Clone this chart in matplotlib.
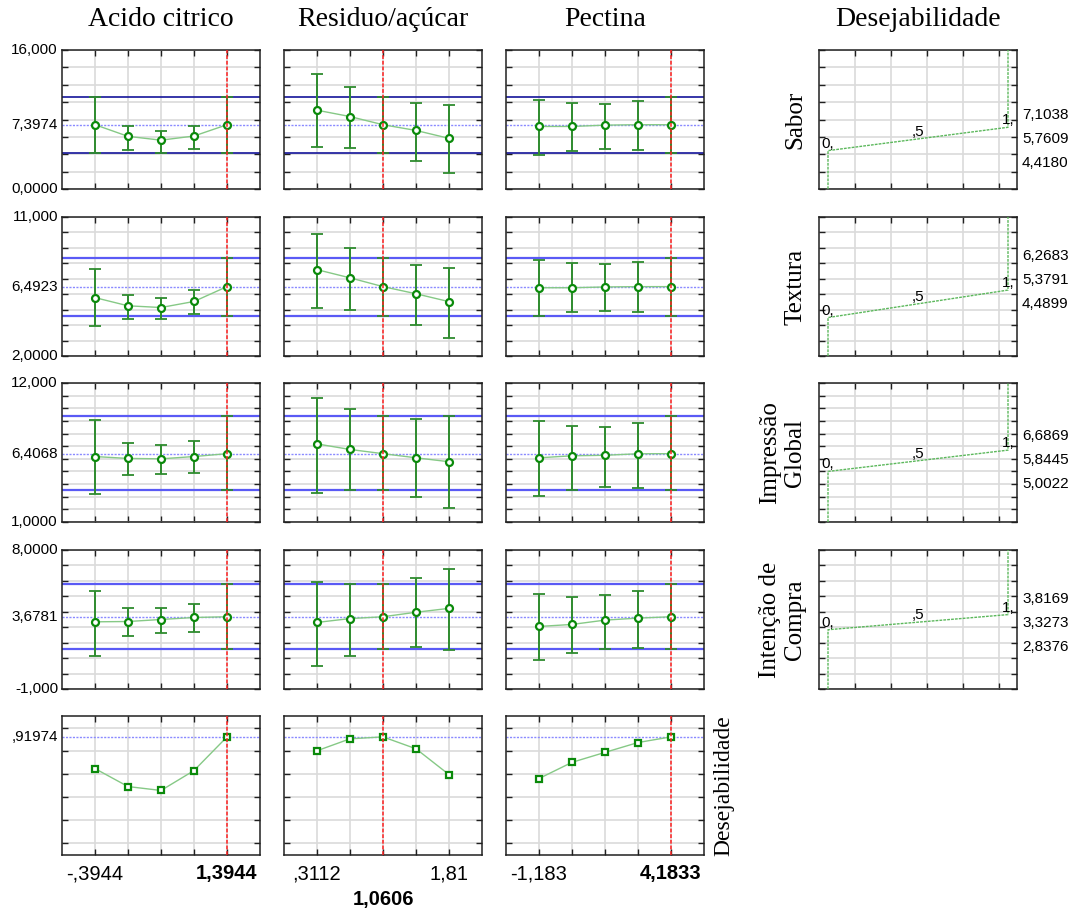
import matplotlib
matplotlib.use('Agg')
import matplotlib.pyplot as plt
import matplotlib.transforms as mtransforms
import numpy as np

# ---------------- data ----------------
factor_names = ["Acido citrico", "Residuo/açúcar", "Pectina"]
factor_levels = [
    [-0.3944, 0.0528, 0.5000, 0.9472, 1.3944],
    [0.3112, 0.6859, 1.0606, 1.4353, 1.8100],
    [-1.1833, 0.1584, 1.5000, 2.8417, 4.1833],
]
current_level = [1.3944, 1.0606, 4.1833]
xlabel_first = ["-,3944", ",3112", "-1,183"]
xlabel_last = ["1,3944", "1,81", "4,1833"]
current_label = ["1,3944", "1,0606", "4,1833"]

response_names = ["Sabor", "Textura", "Impressão\nGlobal", "Intenção de\nCompra"]
y_limits = [(0, 16), (2, 11), (1, 12), (-1, 8)]
y_step = [2, 1, 1, 1]
y_top_labels = ["16,000", "11,000", "12,000", "8,0000"]
y_bottom_labels = ["0,0000", "2,0000", "1,0000", "-1,000"]
predicted = [7.3974, 6.4923, 6.4068, 3.6781]
predicted_labels = ["7,3974", "6,4923", "6,4068", "3,6781"]
ci_low = [4.19, 4.62, 3.50, 1.58]
ci_high = [10.55, 8.33, 9.42, 5.83]

# predicted means per response, per factor (5 levels)
sabor_mean = [[7.40, 6.06, 5.62, 6.10, 7.3974],
              [9.07, 8.34, 7.3974, 6.74, 5.83],
              [7.20, 7.20, 7.35, 7.40, 7.3974]]
sabor_low = [[4.11, 4.53, 4.19, 4.57, 4.19],
             [4.88, 4.76, 4.19, 3.20, 1.79],
             [3.92, 4.42, 4.65, 4.53, 4.19]]
sabor_high = [[10.55, 7.24, 6.67, 7.28, 10.55],
              [13.18, 11.70, 10.55, 9.94, 9.68],
              [10.29, 9.90, 9.83, 10.10, 10.55]]

textura_mean = [[5.78, 5.25, 5.14, 5.53, 6.4923],
                [7.59, 7.06, 6.4923, 6.03, 5.52],
                [6.42, 6.42, 6.47, 6.49, 6.4923]]
textura_low = [[3.93, 4.37, 4.37, 4.71, 4.62],
               [5.14, 4.99, 4.62, 4.00, 3.17],
               [4.56, 4.82, 4.94, 4.86, 4.62]]
textura_high = [[7.62, 5.94, 5.77, 6.30, 8.33],
                [9.89, 9.00, 8.33, 7.91, 7.70],
                [8.23, 8.04, 7.95, 8.06, 8.33]]

impressao_mean = [[6.18, 6.03, 6.00, 6.18, 6.4068],
                  [7.18, 6.74, 6.4068, 6.08, 5.77],
                  [6.08, 6.24, 6.28, 6.40, 6.4068]]
impressao_low = [[3.18, 4.68, 4.82, 4.87, 3.50],
                 [3.26, 3.54, 3.50, 2.97, 2.10],
                 [3.07, 3.54, 3.78, 3.73, 3.50]]
impressao_high = [[9.10, 7.24, 7.10, 7.39, 9.42],
                  [10.85, 9.91, 9.42, 9.15, 9.36],
                  [8.96, 8.62, 8.54, 8.83, 9.42]]

intencao_mean = [[3.35, 3.37, 3.50, 3.63, 3.6781],
                 [3.31, 3.56, 3.6781, 3.97, 4.22],
                 [3.05, 3.18, 3.46, 3.59, 3.6781]]
intencao_low = [[1.13, 2.43, 2.65, 2.69, 1.58],
                [0.47, 1.13, 1.58, 1.69, 1.54],
                [0.86, 1.33, 1.60, 1.67, 1.58]]
intencao_high = [[5.36, 4.23, 4.25, 4.50, 5.83],
                 [5.95, 5.78, 5.83, 6.16, 6.78],
                 [5.12, 4.97, 5.06, 5.36, 5.83]]

# desirability function limits per response
des_low = [4.4180, 4.4899, 5.0022, 2.8376]
des_mid = [5.7609, 5.3791, 5.8445, 3.3273]
des_high = [7.1038, 6.2683, 6.6869, 3.8169]
des_low_labels = ["4,4180", "4,4899", "5,0022", "2,8376"]
des_mid_labels = ["5,7609", "5,3791", "5,8445", "3,3273"]
des_high_labels = ["7,1038", "6,2683", "6,6869", "3,8169"]

# overall desirability profile
desirability = [[0.646, 0.491, 0.457, 0.629, 0.91974],
                [0.800, 0.903, 0.91974, 0.817, 0.594],
                [0.560, 0.700, 0.786, 0.871, 0.91974]]
des_current = 0.91974
des_current_label = ",91974"

means = [sabor_mean, textura_mean, impressao_mean, intencao_mean]
lows = [sabor_low, textura_low, impressao_low, intencao_low]
highs = [sabor_high, textura_high, impressao_high, intencao_high]

# ---------------- layout ----------------
W, H = 1074, 914
fig = plt.figure(figsize=(W / 100, H / 100), dpi=100)
SANS = ['Liberation Sans', 'DejaVu Sans']
SERIF = ['Liberation Serif', 'DejaVu Serif']

col_left = [62, 284, 506]
right_left = 819
pw, ph = 198, 139
row_top = [50, 217, 383, 550, 716]

GRID = '#dadada'
GREEN = '#0a8a0a'
LGREEN = '#86c986'
TICKFS = 11


def px_axes(l, t, w, h):
    return fig.add_axes([l / W, 1 - (t + h) / H, w / W, h / H])


def style(ax):
    for s in ax.spines.values():
        s.set_color('#202020')
        s.set_linewidth(1.1)
    ax.tick_params(direction='in', top=True, right=True, length=4, width=1,
                   labelleft=False, labelbottom=False, colors='#202020')
    ax.grid(True, color=GRID, lw=1.2)
    ax.set_axisbelow(True)


for r in range(5):
    for c in range(3):
        ax = px_axes(col_left[c], row_top[r], pw, ph)
        lv = factor_levels[c]
        step = lv[1] - lv[0]
        ax.set_xlim(lv[0] - step, lv[-1] + step)
        ax.set_xticks(lv)
        style(ax)
        if r < 4:
            y0, y1 = y_limits[r]
            ax.set_ylim(y0, y1)
            ax.set_yticks(np.arange(y0, y1 + 0.001, y_step[r]))
            ci_col = '#14149a' if r == 0 else '#5a5af5'
            ci_lw = 1.2 if r == 0 else 1.6
            ax.axhline(ci_high[r], color=ci_col, lw=ci_lw, zorder=2)
            ax.axhline(ci_low[r], color=ci_col, lw=ci_lw, zorder=2)
            ax.axhline(predicted[r], color='#8a8aff', lw=1, ls=(0, (1.5, 1)), zorder=2)
            m = np.array(means[r][c])
            lo = np.array(lows[r][c])
            hi = np.array(highs[r][c])
            ax.plot(lv, m, color=LGREEN, lw=1, zorder=3)
            ax.errorbar(lv, m, yerr=[m - lo, hi - m], fmt='none', ecolor='#2e8b2e',
                        elinewidth=1.4, capsize=4, capthick=1.3, zorder=4)
            ax.plot(lv, m, 'o', ms=5, mfc='white', mec=GREEN, mew=1.6, zorder=5)
            if c == 0:
                tr = mtransforms.offset_copy(ax.get_yaxis_transform(), fig=fig, x=-4, y=0, units='dots')
                ax.text(0, y1, y_top_labels[r], transform=tr, ha='right', va='center',
                        fontsize=TICKFS, family=SANS)
                ax.text(0, y0, y_bottom_labels[r], transform=tr, ha='right', va='center',
                        fontsize=TICKFS, family=SANS)
                ax.text(0, predicted[r], predicted_labels[r], transform=tr, ha='right',
                        va='center', fontsize=TICKFS, family=SANS)
        else:
            ax.set_ylim(-0.1, 1.1)
            ax.set_yticks(np.arange(0, 1.001, 0.2))
            ax.axhline(des_current, color='#8a8aff', lw=1, ls=(0, (1.5, 1)), zorder=2)
            ax.plot(lv, desirability[c], color=LGREEN, lw=1, zorder=3)
            ax.plot(lv, desirability[c], 's', ms=5, mfc='white', mec=GREEN, mew=1.6, zorder=5)
            if c == 0:
                tr = mtransforms.offset_copy(ax.get_yaxis_transform(), fig=fig, x=-4, y=0, units='dots')
                ax.text(0, des_current, des_current_label, transform=tr, ha='right',
                        va='center', fontsize=TICKFS, family=SANS)
            # x labels
            trx = mtransforms.offset_copy(ax.get_xaxis_transform(), fig=fig, x=0, y=-19, units='dots')
            ax.text(lv[0], 0, xlabel_first[c], transform=trx, ha='center', va='center',
                    fontsize=14.5, family=SANS)
            last_bold = abs(current_level[c] - lv[-1]) < 1e-6
            ax.text(lv[-1], 0, xlabel_last[c], transform=trx, ha='center', va='center',
                    fontsize=14.5, family=SANS, fontweight='bold' if last_bold else 'normal')
            if not last_bold:
                trx2 = mtransforms.offset_copy(ax.get_xaxis_transform(), fig=fig, x=0, y=-44, units='dots')
                ax.text(current_level[c], 0, current_label[c], transform=trx2, ha='center',
                        va='center', fontsize=14.5, family=SANS, fontweight='bold')
        ax.axvline(current_level[c], color='#ff2020', lw=1.1, ls=(0, (2.5, 1.2)), zorder=6)

# desirability function panels
mid_label_frac = [0.357, 0.547, 0.443, 0.478]
for r in range(4):
    ax = px_axes(right_left, row_top[r], pw, ph)
    y0, y1 = y_limits[r]
    ax.set_xlim(-0.05, 1.05)
    ax.set_xticks(np.arange(0.15, 1.0, 0.2))
    ax.set_ylim(y0, y1)
    ax.set_yticks(np.arange(y0, y1 + 0.001, y_step[r]))
    style(ax)
    ax.plot([0, 0, 1, 1], [y0, des_low[r], des_high[r], y1], color='#5cb85c', lw=1,
            ls=(0, (2, 0.8)), zorder=3)
    tkw = dict(fontsize=TICKFS, family=SANS, ha='center', va='bottom', zorder=5)
    ax.text(0, des_low[r], "0,", **tkw)
    ax.text(0.5, des_mid[r], ",5", **tkw)
    ax.text(1, des_high[r], "1,", **tkw)
    for lab, off in [(des_high_labels[r], 24), (des_mid_labels[r], 0), (des_low_labels[r], -24)]:
        tr = mtransforms.offset_copy(ax.transAxes, fig=fig, x=5, y=off, units='dots')
        ax.text(1.0, mid_label_frac[r], lab, transform=tr, ha='left', va='center',
                fontsize=TICKFS, family=SANS)
    # row label
    fig.text(806 / W, 1 - (row_top[r] + ph / 2) / H, response_names[r], rotation=90,
             ha='right', va='center', multialignment='center', fontsize=18,
             family=SERIF, linespacing=1.15)

fig.text(734 / W, 1 - (row_top[4] + ph / 2) / H, "Desejabilidade", rotation=90,
         ha='right', va='center', fontsize=17, family=SERIF)

# column titles
for c in range(3):
    fig.text((col_left[c] + pw / 2) / W, 1 - 20 / H, factor_names[c], ha='center',
             va='center', fontsize=20, family=SERIF)
fig.text((right_left + pw / 2) / W, 1 - 20 / H, "Desejabilidade", ha='center',
         va='center', fontsize=20, family=SERIF)

fig.savefig('out.png', dpi=100)
